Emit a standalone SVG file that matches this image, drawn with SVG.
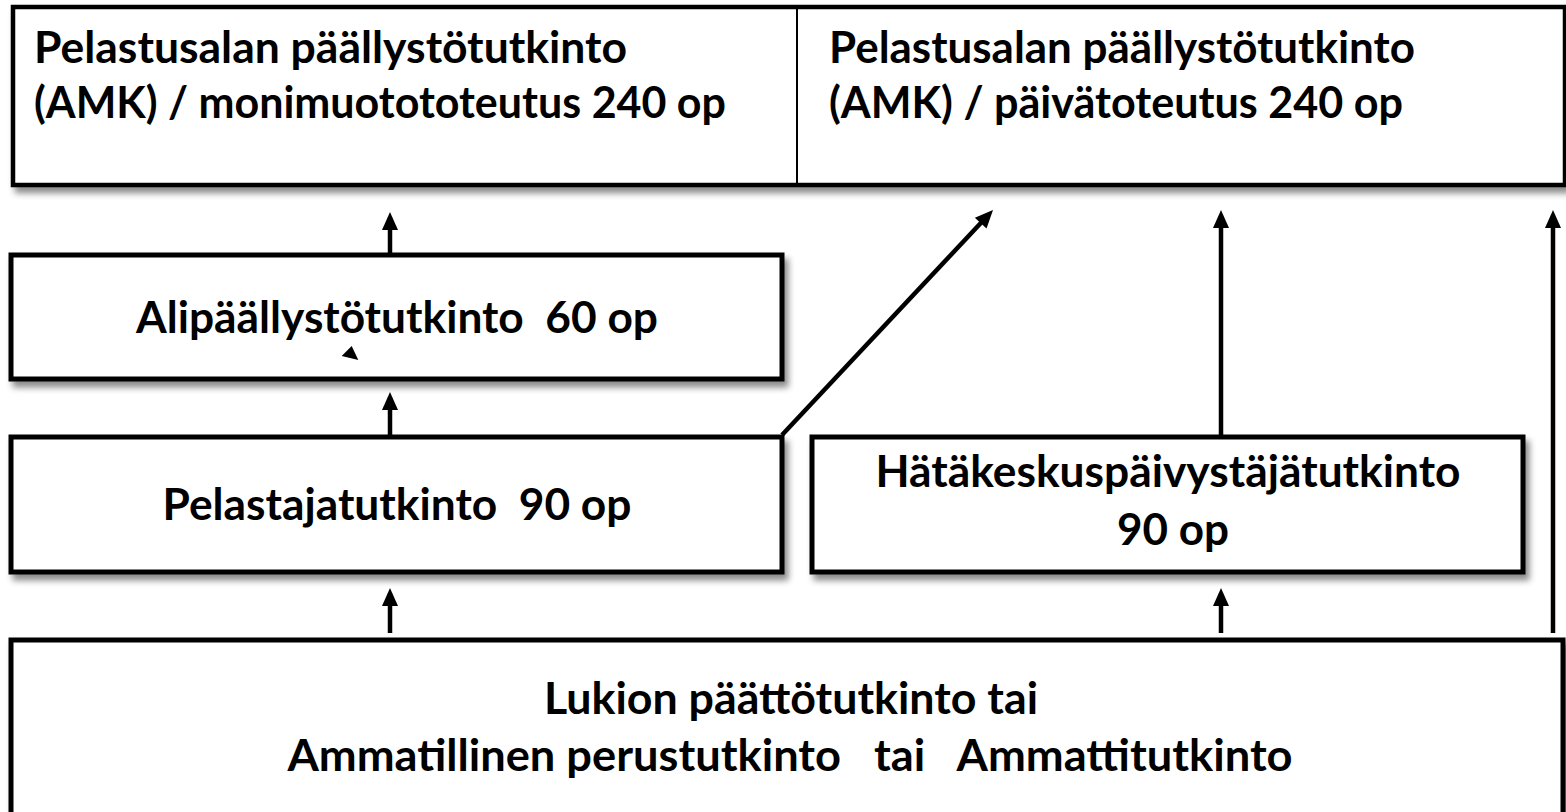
<svg xmlns="http://www.w3.org/2000/svg" width="1566" height="812" viewBox="0 0 1566 812">
<style>
.box{fill:#fff;stroke:#000;stroke-width:5;filter:url(#sh)}
.t{font-family:Lato,"Open Sans","Liberation Sans",sans-serif;font-weight:bold;font-size:43px;fill:#000;white-space:pre}
.c{text-anchor:middle}
.conn line{stroke:#000;stroke-width:4.5;marker-end:url(#ah)}
</style>
<defs>
<filter id="sh" x="-5%" y="-10%" width="115%" height="130%">
<feDropShadow dx="4" dy="6" stdDeviation="3" flood-color="#000" flood-opacity="0.45"/>
</filter>
<marker id="ah" markerUnits="userSpaceOnUse" markerWidth="18" markerHeight="16" refX="6" refY="8" orient="auto" overflow="visible">
<path d="M0,0 L18,8 L0,16 z" fill="#000"/>
</marker>
</defs>
<rect width="1566" height="812" fill="#fff"/>
<g id="top">
<rect class="box" x="13" y="7" width="1552" height="178" style="stroke-width:4.5"/>
<line x1="797" y1="7" x2="797" y2="185" stroke="#000" stroke-width="2"/>
<text class="t" x="34" y="63" textLength="593" lengthAdjust="spacingAndGlyphs">Pelastusalan päällystötutkinto</text>
<text class="t" x="34" y="118" textLength="692" lengthAdjust="spacingAndGlyphs">(AMK) / monimuotototeutus 240 op</text>
<text class="t" x="829" y="63" textLength="586" lengthAdjust="spacingAndGlyphs">Pelastusalan päällystötutkinto</text>
<text class="t" x="829" y="118" textLength="574" lengthAdjust="spacingAndGlyphs">(AMK) / päivätoteutus 240 op</text>
</g>
<g id="ali">
<rect class="box" x="11" y="255" width="771" height="124"/>
<text class="t c" x="397" y="333" xml:space="preserve" textLength="522" lengthAdjust="spacingAndGlyphs">Alipäällystötutkinto  60 op</text>
<polygon points="351.7,346 341.7,356 358.3,360" fill="#000"/>
</g>
<g id="pelastaja">
<rect class="box" x="11" y="437" width="771" height="135"/>
<text class="t c" x="397" y="520" xml:space="preserve" textLength="469" lengthAdjust="spacingAndGlyphs">Pelastajatutkinto  90 op</text>
</g>
<g id="hatakeskus">
<rect class="box" x="812" y="437" width="711" height="135"/>
<text class="t c" x="1168" y="487" textLength="585" lengthAdjust="spacingAndGlyphs">Hätäkeskuspäivystäjätutkinto</text>
<text class="t c" x="1173" y="545" textLength="112" lengthAdjust="spacingAndGlyphs">90 op</text>
</g>
<g id="lukio">
<rect class="box" x="11" y="640" width="1552" height="200"/>
<text class="t c" x="791" y="714" textLength="494" lengthAdjust="spacingAndGlyphs">Lukion päättötutkinto tai</text>
<text class="t c" x="790" y="771" xml:space="preserve" textLength="1005" lengthAdjust="spacingAndGlyphs">Ammatillinen perustutkinto   tai   Ammattitutkinto</text>
</g>
<g id="connectors" class="conn">
<line x1="390" y1="255" x2="390" y2="224"/>
<line x1="390" y1="437" x2="390" y2="404"/>
<line x1="390" y1="633" x2="390" y2="600"/>
<line x1="1221" y1="633" x2="1221" y2="600"/>
<line x1="1221" y1="437" x2="1221" y2="222"/>
<line x1="1553" y1="633" x2="1553" y2="222"/>
<line x1="782" y1="435" x2="984.8" y2="218.75"/>
</g>
</svg>
